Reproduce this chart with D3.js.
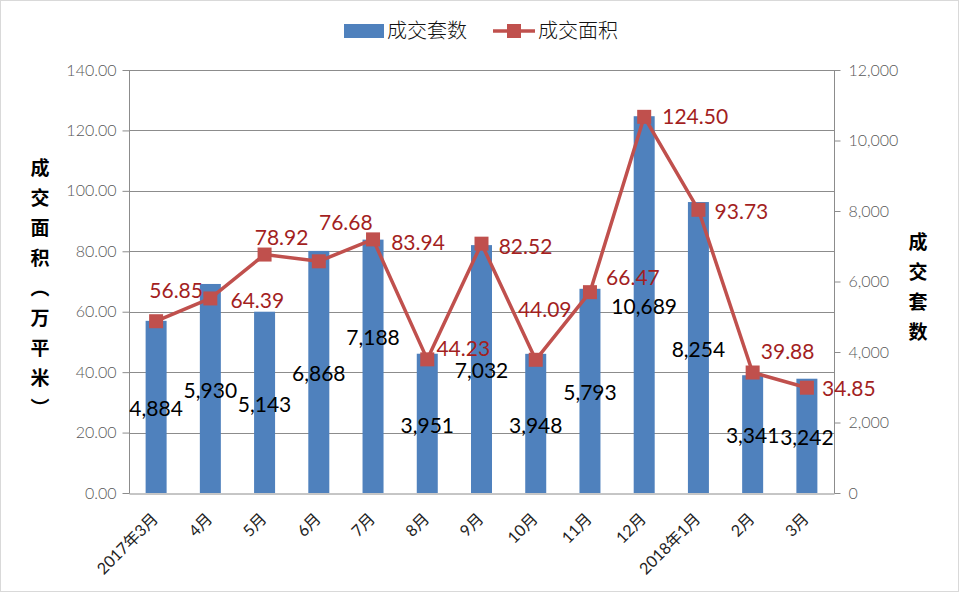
<!DOCTYPE html>
<html>
<head>
<meta charset="utf-8">
<script src="https://cdn.jsdelivr.net/npm/d3@7"></script>
<style>
  html, body { margin: 0; padding: 0; background: #fff; }
  svg { display: block; }
</style>
</head>
<body>
<svg id="chart" width="960" height="593"></svg>
<script>
// ---- data ----
const categories = ["2017年3月","4月","5月","6月","7月","8月","9月","10月","11月","12月","2018年1月","2月","3月"];
const units = [4884, 5930, 5143, 6868, 7188, 3951, 7032, 3948, 5793, 10689, 8254, 3341, 3242];   // 成交套数
const area  = [56.85, 64.39, 78.92, 76.68, 83.94, 44.23, 82.52, 44.09, 66.47, 124.50, 93.73, 39.88, 34.85]; // 成交面积
const leftTicks  = [0, 20, 40, 60, 80, 100, 120, 140];
const rightTicks = [0, 2000, 4000, 6000, 8000, 10000, 12000];
const seriesNames = ["成交套数", "成交面积"];
const leftTitle = "成交面积（万平米）";
const rightTitle = "成交套数";

// ---- layout (label placement offsets, in px, relative to the mark) ----
const areaLabelOffset = [[20,-31],[47,2],[17,-17],[27,-39],[45,3],[36,-11],[44,3],[9,-50],[43,-15],[51,0],[43,2],[35,-21],[42,1]];
const unitLabelShift  = [0,0,0,0,-31,0,0,0,0,0,0,0,0];

const svg = d3.select("#chart");
const W = 960, H = 593;
const plot = { left: 129, right: 834, top: 70, bottom: 493 };

const BLUE = "#4F81BD", RED = "#C0504D", LABEL_RED = "#A31F1F", GRID = "#8C8C8C";
const NUM_FONT = "Lato, 'Open Sans', sans-serif";
const CJK_FONT = "'Noto Sans CJK SC', 'Noto Sans', sans-serif";

// outer border
svg.append("rect").attr("x", 0.5).attr("y", 0.5).attr("width", W - 2).attr("height", H - 2)
  .attr("fill", "#fff").attr("stroke", "#D9D9D9");

const x = d3.scaleBand().domain(categories).range([plot.left, plot.right]).paddingInner(0).paddingOuter(0);
const yL = d3.scaleLinear().domain([0, 140]).range([plot.bottom, plot.top]);
const yR = d3.scaleLinear().domain([0, 12000]).range([plot.bottom, plot.top]);
const cx = d => x(d) + x.bandwidth() / 2;
const barW = 21;

// gridlines (left axis)
svg.append("g").selectAll("line").data(leftTicks.filter(t => t > 0)).join("line")
  .attr("x1", plot.left).attr("x2", plot.right)
  .attr("y1", d => Math.round(yL(d)) + 0.5).attr("y2", d => Math.round(yL(d)) + 0.5)
  .attr("stroke", GRID).attr("stroke-width", 1);

// bars
svg.append("g").selectAll("rect").data(units).join("rect")
  .attr("x", (d, i) => cx(categories[i]) - barW / 2)
  .attr("y", d => yR(d))
  .attr("width", barW)
  .attr("height", d => plot.bottom - yR(d))
  .attr("fill", BLUE);

// left axis
const gL = svg.append("g").attr("transform", `translate(${plot.left + 0.5},0)`)
  .call(d3.axisLeft(yL).tickValues(leftTicks).tickFormat(d3.format(".2f")).tickSize(7).tickPadding(6));
// right axis
const gR = svg.append("g").attr("transform", `translate(${plot.right + 0.5},0)`)
  .call(d3.axisRight(yR).tickValues(rightTicks).tickFormat(d3.format(",")).tickSize(6).tickPadding(8));
[gL, gR].forEach(g => {
  g.select(".domain").attr("stroke", GRID).attr("d", `M0,${plot.top}V${plot.bottom + 0.5}`);
  g.selectAll(".tick line").attr("stroke", GRID);
  g.selectAll(".tick text").attr("fill", "#595959")
    .style("font-family", NUM_FONT).style("font-size", "16px").style("font-weight", 300);
});

// bottom axis
const gB = svg.append("g").attr("transform", `translate(0,${plot.bottom + 0.5})`)
  .call(d3.axisBottom(x).tickSize(0).tickPadding(0));
gB.select(".domain").attr("stroke", GRID);
gB.selectAll(".tick text").remove();
svg.append("g").selectAll("text").data(categories).join("text")
  .attr("transform", d => `translate(${cx(d) - 1},${plot.bottom + 23}) rotate(-45)`)
  .attr("text-anchor", "end").attr("dy", "0.35em")
  .style("font-family", `Lato, ${CJK_FONT}`).style("font-size", "16px").attr("fill", "#222")
  .text(d => d);

// line
const line = d3.line().x((d, i) => cx(categories[i])).y(d => yL(d));
svg.append("path").datum(area).attr("d", line)
  .attr("fill", "none").attr("stroke", RED).attr("stroke-width", 3.5).attr("stroke-linejoin", "round");
const mk = 14;
svg.append("g").selectAll("rect").data(area).join("rect")
  .attr("x", (d, i) => cx(categories[i]) - mk / 2)
  .attr("y", d => yL(d) - mk / 2)
  .attr("width", mk).attr("height", mk).attr("fill", RED);

// bar labels
svg.append("g").selectAll("text").data(units).join("text")
  .attr("x", (d, i) => cx(categories[i]))
  .attr("y", (d, i) => (yR(d) + plot.bottom) / 2 + 2 + unitLabelShift[i])
  .attr("dy", "0.35em").attr("text-anchor", "middle")
  .style("font-family", NUM_FONT).style("font-size", "21px").attr("fill", "#000")
  .text(d => d3.format(",")(d));

// line labels
svg.append("g").selectAll("text").data(area).join("text")
  .attr("x", (d, i) => cx(categories[i]) + areaLabelOffset[i][0])
  .attr("y", (d, i) => yL(d) + areaLabelOffset[i][1])
  .attr("dy", "0.35em").attr("text-anchor", "middle")
  .style("font-family", NUM_FONT).style("font-size", "21px").attr("fill", LABEL_RED)
  .text(d => d3.format(".2f")(d));

// axis titles (vertical)
function vTitle(txt, xc, ytop) {
  svg.append("text").attr("x", xc).attr("y", ytop)
    .style("writing-mode", "vertical-rl").style("text-orientation", "upright")
    .style("font-family", CJK_FONT).style("font-size", "19px").style("font-weight", 700)
    .style("letter-spacing", "11px").attr("fill", "#000")
    .text(txt);
}
vTitle(leftTitle, 40, 158);
vTitle(rightTitle, 918, 232);

// legend
const lg = svg.append("g");
lg.append("rect").attr("x", 344).attr("y", 24).attr("width", 40).attr("height", 14).attr("fill", BLUE);
lg.append("text").attr("x", 387).attr("y", 31).attr("dy", "0.36em")
  .style("font-family", CJK_FONT).style("font-size", "20px").style("font-weight", 300).attr("fill", "#111")
  .text(seriesNames[0]);
lg.append("line").attr("x1", 493).attr("x2", 535).attr("y1", 31).attr("y2", 31)
  .attr("stroke", RED).attr("stroke-width", 3.5);
lg.append("rect").attr("x", 514 - 7).attr("y", 31 - 7).attr("width", 14).attr("height", 14).attr("fill", RED);
lg.append("text").attr("x", 538).attr("y", 31).attr("dy", "0.36em")
  .style("font-family", CJK_FONT).style("font-size", "20px").style("font-weight", 300).attr("fill", "#111")
  .text(seriesNames[1]);
</script>
</body>
</html>
